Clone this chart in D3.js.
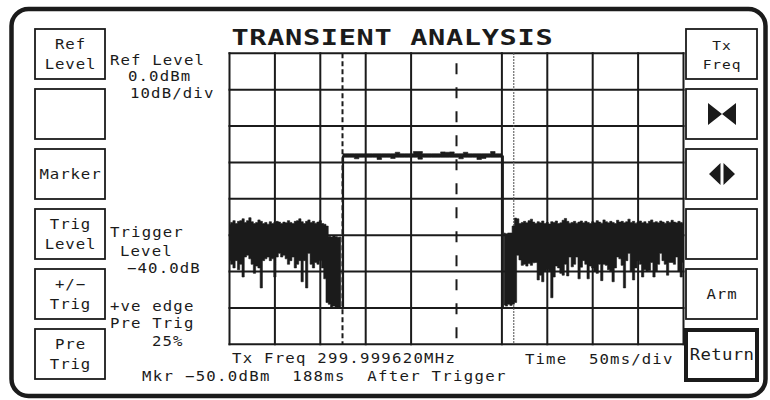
<!DOCTYPE html>
<html><head><meta charset="utf-8">
<script src="https://cdn.jsdelivr.net/npm/d3@7"></script>
<style>body{margin:0;background:#fff}svg{display:block}text{white-space:pre}</style>
</head><body><svg id="c" width="770" height="400"></svg>
<script>
// ---------- data ----------
const timeTicks=[0,50,100,150,200,250,300,350,400,450,500];   // ms, 50 ms/div
const levelTicks=[0,-10,-20,-30,-40,-50,-60,-70,-80];         // dBm, 10 dB/div
const centerTime=250, triggerTime=125, markerTime=313;
const noiseStep=2.5;                 // ms between samples
const preStart=0;
const preHi=[-47,-46.5,-46,-46.8,-46.2,-46,-45.5,-46.5,-46,-45.2,
  -46.3,-46.8,-46.5,-45.8,-46.2,-46.8,-46.5,-47,-46.3,-46.8,
  -46.5,-46.2,-46.4,-46.8,-46.4,-46.6,-46,-46.5,-46.8,-46.2,
  -46,-45.5,-46.3,-46.8,-46.2,-45.8,-46.5,-46.2,-46.7,-46.4,
  -46,-46.8,-47,-47.5,-50.3,-50.5,-50.2,-50.4,-50.6,-50.5];
const preLo=[-57,-58,-59,-57,-59.5,-58,-61.5,-56,-55.5,-56.5,
  -58,-60.5,-58.5,-59,-64.5,-57,-56.5,-56,-57,-56.5,
  -61.5,-56,-55,-56,-55.5,-56.5,-58,-57,-56,-59,
  -58,-57,-62.8,-57,-64.5,-55,-58,-59,-57.5,-58,
  -57,-59,-62,-68.5,-69,-70,-69.5,-70,-69.8,-70];
const pulseStart=125, pulseStep=5;
const pulseHi=[-27.6,-27.6,-27.6,-27.6,-27.6,-27.6,-27.6,-27.6,-27.6,-27.6,
  -27.6,-27.6,-27.2,-27.6,-27.6,-27.6,-27.0,-27.0,-27.6,-27.6,
  -27.6,-27.6,-27.1,-27.2,-27.1,-27.6,-27.6,-27.2,-27.6,-27.6,
  -27.6,-27.6,-27.6,-27.0,-27.6,-27.6];
const pulseLo=[-28.6,-28.6,-28.6,-29.0,-28.6,-28.6,-28.6,-28.6,-29.2,-28.6,
  -28.6,-28.9,-28.6,-28.6,-28.6,-28.6,-28.6,-29.1,-28.6,-28.6,
  -28.6,-28.6,-28.6,-28.6,-28.6,-28.6,-29.0,-28.6,-28.6,-28.6,
  -29.2,-28.9,-28.6,-28.6,-28.6,-28.6];
const postStart=302.5;
const postHi=[-49.4,-49.6,-49.4,-49.4,-47.5,-45.3,-45.5,-46.8,-46.5,-46.2,
  -46.6,-46,-45.6,-46.4,-46.8,-46.3,-46.6,-46.1,-46.8,-46.5,
  -46.9,-46.3,-46.5,-46.1,-46.8,-46.6,-45.9,-45.4,-46.2,-46.7,
  -46.5,-46.2,-46.7,-46.4,-46.1,-46.6,-46.2,-46.5,-46.8,-46.3,
  -46.6,-46,-46.4,-46.7,-45.8,-46.3,-46.6,-46.2,-46.5,-46.8,
  -45.9,-46.4,-46.2,-46.6,-46.3,-45.6,-46.5,-46.2,-46.7,-46.4,
  -46.1,-46.6,-46.3,-46.8,-46.2,-45.8,-46.5,-46.3,-46.6,-46.1,
  -46.4,-46.7,-46.2,-46.5,-45.9,-46.4,-46.6,-46.2,-46.5,-46.8];
const postLo=[-69.2,-69.5,-69,-69.3,-69,-68.5,-55.5,-56.8,-58.3,-58,
  -58.5,-57.8,-58.3,-57.6,-57.5,-62.3,-61,-62.8,-60,-59.5,
  -60,-67.2,-61.5,-58.5,-59,-60.5,-61,-58,-61.2,-56,
  -58.7,-58,-56,-62,-58.8,-57,-58,-62,-58.5,-59,
  -60,-60.5,-58,-62.5,-58,-58.3,-59.5,-60,-62.8,-59,
  -56,-56.5,-58.3,-64.5,-57,-55,-60,-62.3,-59,-57,
  -58,-61.5,-59.5,-60,-59.7,-57.5,-61.5,-60,-58,-55,
  -57,-58,-61,-57.5,-57.5,-58,-56,-60,-61.5,-57.5];
const edgeTimes=[125,301];
const edgeFrom=[-70,-28.1];
const edgeTo=[-28.1,-70];

const title="TRANSIENT ANALYSIS";
const leftButtons=[["Ref","Level"],[],["Marker"],["Trig","Level"],["+/\u2212","Trig"],["Pre","Trig"]];
const rightButtons=[["Tx","Freq"],"bowtie","diamond",[],["Arm"],["Return"]];
const refInfo=["Ref Level","0.0dBm","10dB/div"];
const trigInfo=["Trigger","Level","\u221240.0dB"];
const edgeInfo=["+ve edge","Pre Trig","25%"];
const freqText="Tx Freq 299.999620MHz";
const timeText=["Time","50ms/div"];
const markerText="Mkr \u221250.0dBm  188ms  After Trigger";

// ---------- drawing ----------
const ink="#1b1b1b";
const FONT="'DejaVu Sans Mono', 'Liberation Mono', monospace";
const svg=d3.select("#c");
svg.append("rect").attr("width",770).attr("height",400).attr("fill","#fff");

const x=d3.scaleLinear().domain([0,500]).range([229.5,683.5]);
const y=d3.scaleLinear().domain([0,-80]).range([53.3,344.3]);

// outer frame
svg.append("rect").attr("x",11.5).attr("y",9).attr("width",754).attr("height",387)
  .attr("rx",17).attr("fill","none").attr("stroke",ink).attr("stroke-width",4.5);

// grid
const grid=svg.append("g").attr("stroke",ink).attr("stroke-width",2);
grid.selectAll("line.v").data(timeTicks.filter(t=>t!==centerTime)).join("line")
  .attr("x1",d=>x(d)).attr("x2",d=>x(d)).attr("y1",y(0)-1).attr("y2",y(-80)+1);
grid.selectAll("line.h").data(levelTicks).join("line").attr("class","h")
  .attr("x1",x(0)-1).attr("x2",x(500)+1).attr("y1",d=>y(d)).attr("y2",d=>y(d));
grid.append("line").attr("x1",x(centerTime)).attr("x2",x(centerTime))
  .attr("y1",y(0)).attr("y2",y(-80)).attr("stroke-dasharray","11,13").attr("stroke-dashoffset",14);
grid.append("line").attr("x1",x(triggerTime)-0.5).attr("x2",x(triggerTime)-0.5)
  .attr("y1",y(0)).attr("y2",y(-80)).attr("stroke-dasharray","5,3");
grid.append("line").attr("x1",x(markerTime)).attr("x2",x(markerTime))
  .attr("y1",y(0)).attr("y2",y(-80)).attr("stroke","#555").attr("stroke-width",1.4)
  .attr("stroke-dasharray","1.5,1.5");

// trace
svg.append("clipPath").attr("id","gc").append("rect")
  .attr("x",x(0)).attr("y",y(0)).attr("width",x(500)-x(0)).attr("height",y(-80)-y(0));
const tr=svg.append("g").attr("clip-path","url(#gc)");
const band=d3.area().curve(d3.curveStep).x(d=>x(d.t)).y0(d=>y(d.lo)).y1(d=>y(d.hi));
function series(start,step,hi,lo){return hi.map((h,i)=>({t:start+i*step,hi:h,lo:lo[i]}));}
[[preStart,noiseStep,preHi,preLo],[pulseStart,pulseStep,pulseHi,pulseLo],[postStart,noiseStep,postHi,postLo]]
 .forEach(s=>tr.append("path").datum(series(...s)).attr("d",band).attr("fill",ink)
   .attr("stroke",ink).attr("stroke-width",0.6));
tr.selectAll("line.e").data(edgeTimes).join("line")
  .attr("x1",d=>x(d)).attr("x2",d=>x(d)).attr("y1",(d,i)=>y(edgeFrom[i])).attr("y2",(d,i)=>y(edgeTo[i]))
  .attr("stroke",ink).attr("stroke-width",2.2);

// text helper (horizontally widened monospace, like the instrument's pixel font)
function txt(s,xx,yy,opt={}){
  const sx=opt.sx||1.12;
  const t=svg.append("text").attr("transform",`translate(${xx},${yy}) scale(${sx},1)`).text(s)
    .attr("font-family",FONT).attr("font-size",opt.size||14).attr("fill",ink)
    .attr("letter-spacing",opt.ls!==undefined?opt.ls:1.0)
    .attr("text-anchor",opt.anchor||"start");
  if(opt.weight) t.attr("font-weight",opt.weight);
  if(opt.len) t.attr("textLength",opt.len).attr("lengthAdjust","spacing");
  return t;
}

// title
txt(title,231.5,45,{size:22,weight:"bold",sx:1.3,len:247,ls:0});

// left buttons
leftButtons.forEach((b,i)=>{
  const y0=29+60*i;
  svg.append("rect").attr("x",35).attr("y",y0).attr("width",70).attr("height",50)
    .attr("fill","none").attr("stroke",ink).attr("stroke-width",1.8);
  if(b.length===1) txt(b[0],70.5,y0+30,{anchor:"middle",ls:0.8});
  if(b.length===2){ txt(b[0],70.5,y0+20,{anchor:"middle",ls:0.8}); txt(b[1],70.5,y0+40,{anchor:"middle",ls:0.8}); }
});
// right buttons
rightButtons.forEach((b,i)=>{
  const y0=29+60*i, isRet=(i===5);
  svg.append("rect").attr("x",686).attr("y",y0+(isRet?1:0)).attr("width",71).attr("height",50)
    .attr("fill","none").attr("stroke",ink).attr("stroke-width",isRet?4:1.8);
  const cx=722, cy=y0+25;
  if(b==="bowtie"){
    svg.append("path").attr("fill",ink)
      .attr("d",`M${cx-14},${cy-11}L${cx},${cy}L${cx-14},${cy+11}ZM${cx+14},${cy-11}L${cx},${cy}L${cx+14},${cy+11}Z`);
  } else if(b==="diamond"){
    svg.append("path").attr("fill",ink)
      .attr("d",`M${cx-1.5},${cy-11}L${cx-13},${cy}L${cx-1.5},${cy+11}ZM${cx+1.5},${cy-11}L${cx+13},${cy}L${cx+1.5},${cy+11}Z`);
  } else if(b.length===1){
    if(isRet) txt(b[0],722,y0+31,{anchor:"middle",size:16,sx:1.08,ls:0.3});
    else txt(b[0],722,y0+30,{anchor:"middle",ls:0.8});
  } else if(b.length===2){
    txt(b[0],722,y0+21,{anchor:"middle",size:13,ls:0.8});
    txt(b[1],722,y0+40,{anchor:"middle",size:13,ls:0.8});
  }
});

// info text
txt(refInfo[0],110,64.5); txt(refInfo[1],128,81); txt(refInfo[2],130,97.5);
txt(trigInfo[0],110,237); txt(trigInfo[1],120,255.5); txt(trigInfo[2],127,273);
txt(edgeInfo[0],110,311); txt(edgeInfo[1],110,327.5); txt(edgeInfo[2],152,345.5);
txt(freqText,232,363,{ls:1.1});
txt(timeText[0],525,364); txt(timeText[1],589,364);
txt(markerText,142,381,{ls:1.15});
</script></body></html>
